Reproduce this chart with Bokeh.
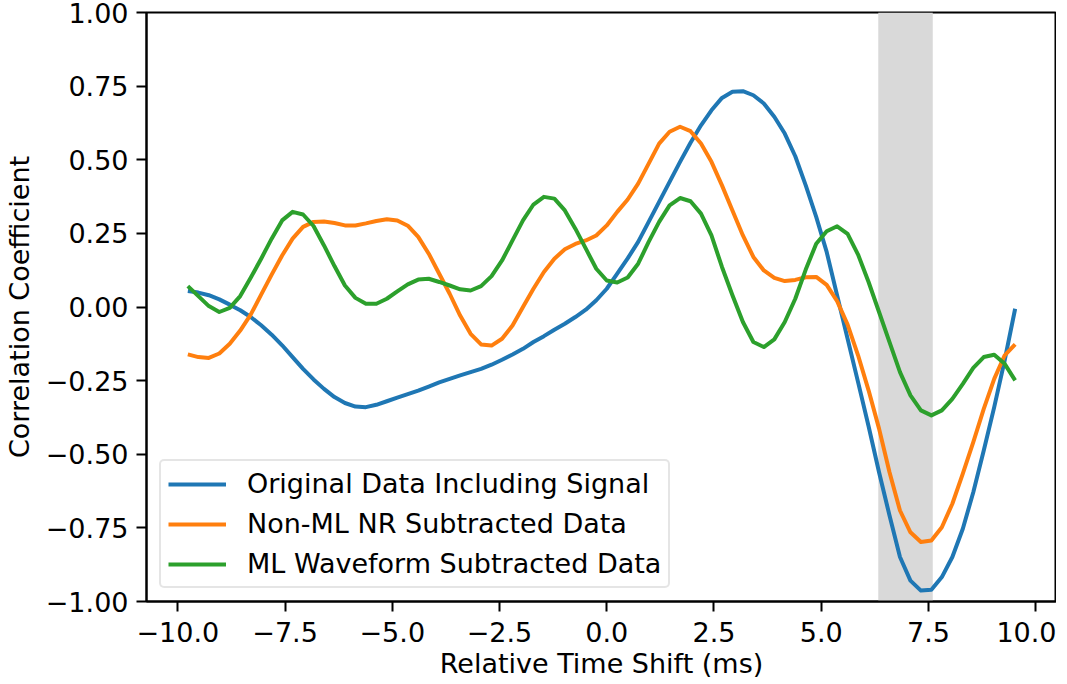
from bokeh.plotting import figure
from bokeh.models import BoxAnnotation, Range1d, FixedTicker, CustomJSTickFormatter
from bokeh.embed import file_html
from bokeh.resources import INLINE

# ---------------- data ----------------
time_shift_ms = [
    -9.766, -9.521, -9.277, -9.033, -8.789, -8.545, -8.301, -8.057, -7.812, -7.568,
    -7.324, -7.080, -6.836, -6.592, -6.348, -6.104, -5.859, -5.615, -5.371, -5.127,
    -4.883, -4.639, -4.395, -4.150, -3.906, -3.662, -3.418, -3.174, -2.930, -2.686,
    -2.441, -2.197, -1.953, -1.709, -1.465, -1.221, -0.977, -0.732, -0.488, -0.244,
    0.000, 0.244, 0.488, 0.732, 0.977, 1.221, 1.465, 1.709, 1.953, 2.197,
    2.441, 2.686, 2.930, 3.174, 3.418, 3.662, 3.906, 4.150, 4.395, 4.639,
    4.883, 5.127, 5.371, 5.615, 5.859, 6.104, 6.348, 6.592, 6.836, 7.080,
    7.324, 7.568, 7.812, 8.057, 8.301, 8.545, 8.789, 9.033, 9.277, 9.521,
]

original_data = [
    0.054, 0.049, 0.040, 0.026, 0.008, -0.011, -0.034, -0.062, -0.094, -0.130,
    -0.170, -0.210, -0.246, -0.278, -0.306, -0.326, -0.338, -0.340, -0.332, -0.320,
    -0.308, -0.296, -0.284, -0.270, -0.256, -0.244, -0.232, -0.221, -0.210, -0.196,
    -0.179, -0.161, -0.142, -0.119, -0.099, -0.077, -0.057, -0.034, -0.009, 0.023,
    0.062, 0.113, 0.165, 0.221, 0.289, 0.357, 0.425, 0.493, 0.558, 0.617,
    0.668, 0.710, 0.731, 0.733, 0.719, 0.691, 0.646, 0.589, 0.512, 0.413,
    0.306, 0.187, 0.039, -0.108, -0.255, -0.405, -0.561, -0.708, -0.849, -0.929,
    -0.963, -0.960, -0.917, -0.849, -0.753, -0.629, -0.487, -0.340, -0.181, -0.006,
]

non_ml_nr_subtracted = [
    -0.161, -0.170, -0.173, -0.158, -0.125, -0.080, -0.026, 0.042, 0.110, 0.175,
    0.232, 0.272, 0.289, 0.290, 0.285, 0.277, 0.277, 0.284, 0.292, 0.298,
    0.294, 0.276, 0.238, 0.181, 0.113, 0.045, -0.029, -0.091, -0.127, -0.131,
    -0.108, -0.063, 0.000, 0.062, 0.119, 0.164, 0.196, 0.214, 0.226, 0.243,
    0.277, 0.323, 0.365, 0.419, 0.487, 0.555, 0.595, 0.612, 0.597, 0.555,
    0.493, 0.413, 0.328, 0.243, 0.170, 0.124, 0.099, 0.088, 0.092, 0.101,
    0.102, 0.075, 0.020, -0.060, -0.164, -0.283, -0.413, -0.561, -0.691, -0.765,
    -0.798, -0.793, -0.748, -0.668, -0.566, -0.459, -0.346, -0.244, -0.164, -0.127,
]

ml_waveform_subtracted = [
    0.071, 0.037, 0.003, -0.017, -0.003, 0.037, 0.099, 0.164, 0.232, 0.294,
    0.323, 0.314, 0.275, 0.209, 0.139, 0.073, 0.031, 0.011, 0.011, 0.028,
    0.053, 0.077, 0.093, 0.096, 0.085, 0.073, 0.060, 0.056, 0.071, 0.105,
    0.158, 0.226, 0.294, 0.348, 0.374, 0.368, 0.328, 0.266, 0.198, 0.130,
    0.090, 0.083, 0.100, 0.147, 0.221, 0.289, 0.345, 0.370, 0.359, 0.317,
    0.243, 0.136, 0.040, -0.051, -0.119, -0.136, -0.110, -0.051, 0.028, 0.127,
    0.215, 0.257, 0.274, 0.248, 0.178, 0.085, -0.017, -0.119, -0.221, -0.300,
    -0.351, -0.368, -0.351, -0.312, -0.261, -0.207, -0.170, -0.162, -0.193, -0.249,
]

series_labels = [
    "Original Data Including Signal",
    "Non-ML NR Subtracted Data",
    "ML Waveform Subtracted Data",
]

shade_start = 6.33
shade_end = 7.60

x_ticks = [-10.0, -7.5, -5.0, -2.5, 0.0, 2.5, 5.0, 7.5, 10.0]
y_ticks = [-1.0, -0.75, -0.5, -0.25, 0.0, 0.25, 0.5, 0.75, 1.0]

x_label = "Relative Time Shift (ms)"
y_label = "Correlation Coefficient"

# ---------------- styling ----------------
colors = ["#1f77b4", "#ff7f0e", "#2ca02c"]
FONT = "DejaVu Sans"
FS = "27px"

p = figure(
    width=1056, height=681,
    output_backend="svg", toolbar_location=None,
    x_range=Range1d(-10.73, 10.485), y_range=Range1d(-1.0, 1.0),
    min_border_left=140, min_border_right=0, min_border_top=12, min_border_bottom=70,
)
p.background_fill_color = "white"
p.border_fill_color = "white"
p.grid.visible = False
p.outline_line_color = "black"
p.outline_line_width = 2
p.outline_line_alpha = 1.0

shade = BoxAnnotation(left=shade_start, right=shade_end, fill_color="#d9d9d9",
                      fill_alpha=1.0, line_alpha=0, level="underlay")
p.add_layout(shade)

for ys, lab, col in zip([original_data, non_ml_nr_subtracted, ml_waveform_subtracted],
                        series_labels, colors):
    p.line(time_shift_ms, ys, line_color=col, line_width=4, legend_label=lab,
           line_join="round", line_cap="butt")

for ax in (p.xaxis[0], p.yaxis[0]):
    ax.axis_line_color = "black"
    ax.axis_line_width = 2
    ax.major_tick_line_color = "black"
    ax.major_tick_line_width = 2
    ax.major_tick_out = 10
    ax.major_tick_in = 0
    ax.minor_tick_out = 0
    ax.minor_tick_in = 0
    ax.major_label_text_font = FONT
    ax.major_label_text_font_size = FS
    ax.major_label_text_color = "black"
    ax.axis_label_text_font = FONT
    ax.axis_label_text_font_size = FS
    ax.axis_label_text_font_style = "normal"
    ax.axis_label_text_color = "black"

p.xaxis.ticker = FixedTicker(ticks=x_ticks)
p.yaxis.ticker = FixedTicker(ticks=y_ticks)
p.xaxis.formatter = CustomJSTickFormatter(
    code="return (tick < -1e-9 ? '\u2212' : '') + Math.abs(tick).toFixed(1);")
p.yaxis.formatter = CustomJSTickFormatter(
    code="return (tick < -1e-9 ? '\u2212' : '') + Math.abs(tick).toFixed(2);")
p.xaxis.axis_label = x_label
p.yaxis.axis_label = y_label
p.xaxis.major_label_standoff = 10
p.xaxis.axis_label_standoff = 3
p.yaxis.major_label_standoff = 8
p.yaxis.axis_label_standoff = 8

lg = p.legend[0]
lg.location = "bottom_left"
lg.margin = 13
lg.padding = 7
lg.spacing = 9
lg.glyph_width = 58
lg.glyph_height = 20
lg.label_standoff = 21
lg.label_text_font = FONT
lg.label_text_font_size = FS
lg.label_text_color = "black"
lg.border_line_color = "#cccccc"
lg.border_line_width = 2
lg.background_fill_color = "white"
lg.background_fill_alpha = 0.8
try:
    lg.border_radius = 5
except Exception:
    pass

open("out.html", "w").write(file_html(p, INLINE))
